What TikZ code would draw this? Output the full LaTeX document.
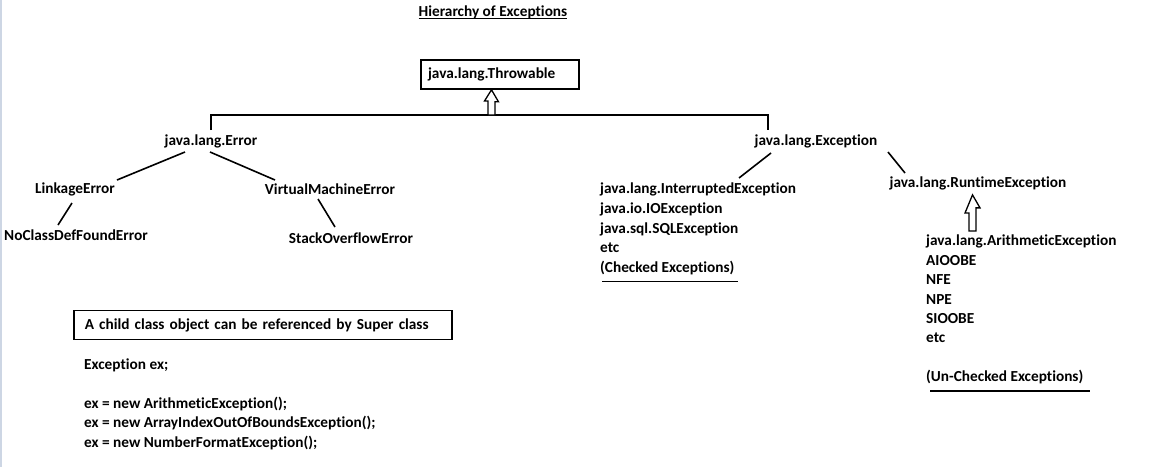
\documentclass[tikz,border=0pt]{standalone}
\usepackage{fontspec}
\setmainfont[Ligatures=NoCommon]{Carlito}
\usetikzlibrary{calc}
\begin{document}
\begin{tikzpicture}[x=1pt,y=-1pt,
  every node/.style={font=\fontsize{15.3}{19.6}\selectfont\bfseries, inner sep=0pt},
  conn/.style={line width=1.6pt},
  uline/.style={line width=1.6pt},
  hollow/.style={line width=1.3pt, fill=white, line join=miter}]
\useasboundingbox (0,0) rectangle (1170,467);
\fill[color={rgb,255:red,205;green,214;blue,228}] (0,0) rectangle (2,467);

% title
\node (title) at (493,12) {Hierarchy of Exceptions};
\draw[line width=1pt] ($(title.base west)+(0,2.5)$) -- ($(title.base east)+(0,2.5)$);

% root
\node[draw, line width=1.6pt, minimum height=29, text width=144, inner xsep=7, align=left] (thr) at (500,74.5) {java.lang.Throwable};

% level 1
\node (err) at (211,141) {java.lang.Error};
\node (exc) at (816,141) {java.lang.Exception};
\coordinate (hl) at (491.5,115);
\draw[conn] ($(err)+(0,-11)$) |- (hl) -| ($(exc)+(-48,-11)$);
\draw[hollow] (thr.south -| hl) -- ++(7,12) -- ++(-3.5,0) -- (hl -| 495,0) -- (hl -| 488,0) -- ++(0,-14) -- ++(-3.5,0) -- cycle;

% errors
\node (link) at (75,189) {LinkageError};
\node (vme) at (330,189) {VirtualMachineError};
\node (ncdf) at (76,235) {NoClassDefFoundError};
\node (soe) at (351,238) {StackOverflowError};
\draw[conn] ($(err)+(-26,11)$) -- ($(link)+(42,-9)$);
\draw[conn] ($(err)+(-1,11)$) -- ($(vme)+(-55,-9)$);
\draw[conn] ($(link)+(-3,14)$) -- ($(ncdf)+(-18,-10)$);
\draw[conn] ($(vme)+(-12,10)$) -- ($(soe)+(-16,-11)$);

% checked
\node[anchor=north west, align=left] (chk) at (600,183) {java.lang.InterruptedException\\java.io.IOException\\java.sql.SQLException\\etc\\(Checked Exceptions)};
\draw[conn] ($(exc)+(-45,12)$) -- ($(chk.north west)+(139,-5)$);
\draw[uline] ($(chk.south west)+(2,6.5)$) -- ($(chk.south west)+(138,6.5)$);

% runtime
\node (rte) at (978,183) {java.lang.RuntimeException};
\draw[conn] ($(exc)+(72,11)$) -- ($(rte)+(-73,-10)$);
\node[anchor=north west, align=left, font=\fontsize{15.3}{19.4}\selectfont\bfseries] (unchk) at (926,235) {java.lang.ArithmeticException\\AIOOBE\\NFE\\NPE\\SIOOBE\\etc\\\mbox{}\\(Un-Checked Exceptions)};
\coordinate (ra) at (972.5,231);
\draw[hollow] ($(rte.south -| ra)+(0,5)$) -- ++(7.5,13) -- ++(-4,0) -- (ra -| 976,0) -- (ra -| 969,0) -- ++(0,-18) -- ++(-4,0) -- cycle;
\draw[uline] ($(unchk.south west)+(4,6.5)$) -- ($(unchk.south west)+(164,6.5)$);

% note box
\node[draw, line width=1.6pt, minimum width=378, minimum height=29, anchor=west, text width=356, inner xsep=11, align=left] (note) at (73,325) {A child class object can be referenced by Super class};
\node[anchor=north west, align=left, font=\fontsize{15.3}{19.3}\selectfont\bfseries] (code) at (84,359) {Exception ex;\\\mbox{}\\ex = new ArithmeticException();\\ex = new ArrayIndexOutOfBoundsException();\\ex = new NumberFormatException();};
\end{tikzpicture}
\end{document}
